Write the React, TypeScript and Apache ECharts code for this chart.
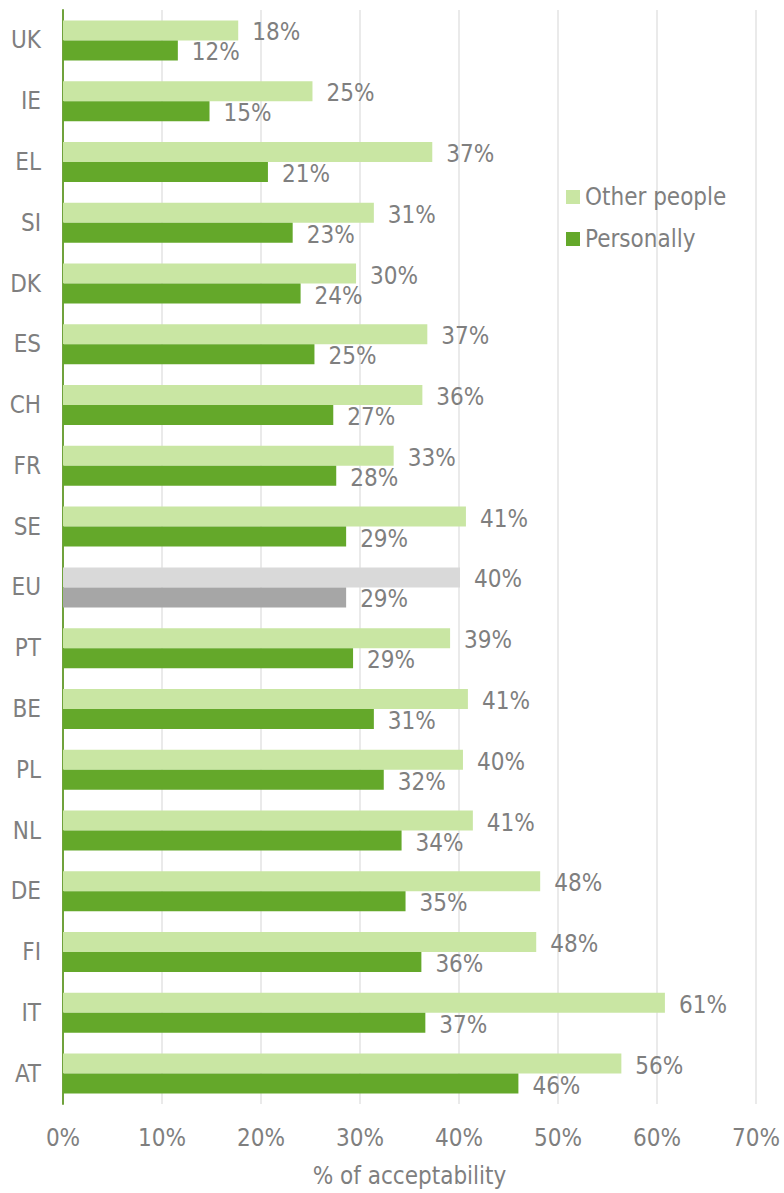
import React, { useEffect, useRef } from "react";
import * as echarts from "echarts";

const categories = ["UK", "IE", "EL", "SI", "DK", "ES", "CH", "FR", "SE", "EU", "PT", "BE", "PL", "NL", "DE", "FI", "IT", "AT"];
const otherPeople = [17.7, 25.2, 37.3, 31.4, 29.6, 36.8, 36.3, 33.4, 40.7, 40.1, 39.1, 40.9, 40.4, 41.4, 48.2, 47.8, 60.8, 56.4];
const personally = [11.6, 14.8, 20.7, 23.2, 24.0, 25.4, 27.3, 27.6, 28.6, 28.6, 29.3, 31.4, 32.4, 34.2, 34.6, 36.2, 36.6, 46.0];
const xTicks = [0, 10, 20, 30, 40, 50, 60, 70];
const seriesNames = ["Other people", "Personally"];
const highlightCategory = "EU";

const FONT = "'DejaVu Sans Condensed', 'DejaVu Sans', sans-serif";
const TEXT = "#7f7f7f";
const FS = 24;

export default function App() {
  const ref = useRef<HTMLDivElement>(null);
  useEffect(() => {
    if (!ref.current) return;
    const chart = echarts.init(ref.current, null, { renderer: "svg" });
    const mk = (vals: number[], euColor: string) =>
      vals.map((v, i) =>
        categories[i] === highlightCategory ? { value: v, itemStyle: { color: euColor } } : v
      );
    const label = {
      show: true,
      position: "right" as const,
      distance: 14,
      offset: [0, 2],
      color: TEXT,
      fontFamily: FONT,
      fontSize: FS,
      formatter: (p: any) => Math.round(p.value) + "%",
    };
    chart.setOption({
      animation: false,
      textStyle: { fontFamily: FONT },
      grid: { left: 63, right: 28, top: 10, bottom: 80, containLabel: false },
      legend: {
        orient: "vertical",
        left: 561,
        top: 180,
        itemWidth: 14,
        itemHeight: 14,
        itemGap: 18,
        icon: "rect",
        data: seriesNames,
        textStyle: { color: TEXT, fontSize: FS, fontFamily: FONT, lineHeight: 24 },
      },
      xAxis: {
        type: "value",
        min: xTicks[0],
        max: xTicks[xTicks.length - 1],
        interval: 10,
        axisLine: { show: false },
        axisTick: { show: false },
        splitLine: { show: true, lineStyle: { color: "#e3e3e3", width: 1.5 } },
        axisLabel: { color: TEXT, fontSize: FS, fontFamily: FONT, margin: 22, formatter: (v: number) => v + "%" },
        name: "% of acceptability",
        nameLocation: "middle",
        nameGap: 60,
        nameTextStyle: { color: TEXT, fontSize: FS, fontFamily: FONT },
      },
      yAxis: {
        type: "category",
        data: categories,
        inverse: true,
        axisLine: { show: true, lineStyle: { color: "#70a23c", width: 2 } },
        axisTick: { show: false },
        axisLabel: { color: TEXT, fontSize: FS, fontFamily: FONT, margin: 22 },
      },
      series: [
        {
          name: seriesNames[0],
          type: "bar",
          data: mk(otherPeople, "#d9d9d9"),
          itemStyle: { color: "#c9e6a3" },
          barWidth: 20,
          barGap: "0%",
          label,
        },
        {
          name: seriesNames[1],
          type: "bar",
          data: mk(personally, "#a6a6a6"),
          itemStyle: { color: "#64a82a" },
          barWidth: 20,
          barGap: "0%",
          label,
        },
      ],
    });
    return () => chart.dispose();
  }, []);
  return <div ref={ref} style={{ position: "absolute", left: 0, top: 0, width: 784, height: 1193 }} />;
}
